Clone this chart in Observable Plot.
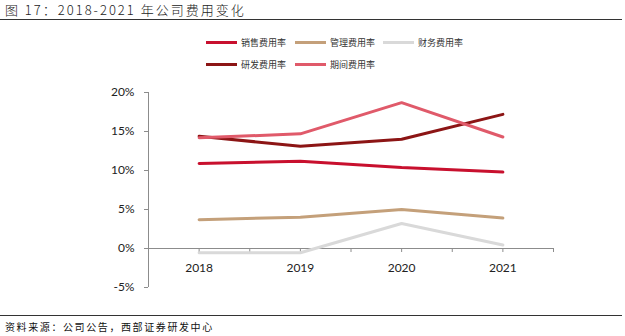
<!DOCTYPE html>
<html><head><meta charset="utf-8">
<script src="https://cdn.jsdelivr.net/npm/d3@7"></script>
<script src="https://cdn.jsdelivr.net/npm/@observablehq/plot@0.6"></script>
<style>
body{margin:0;background:#fff;}
#wrap{position:relative;width:625px;height:336px;overflow:hidden;font-family:"Noto Sans CJK SC","Noto Sans",sans-serif;}
#title{position:absolute;left:5px;top:2px;font-size:13px;line-height:15px;color:#222;letter-spacing:2px;font-weight:300;}
.hr{position:absolute;left:0;width:622px;height:0;border-top:1px solid #333;}
#source{position:absolute;left:5px;top:320px;font-size:10px;line-height:14px;color:#111;letter-spacing:1.6px;}
#legend{position:absolute;left:0;top:0;}
.li{position:absolute;font-size:9px;color:#333;line-height:12px;white-space:nowrap;}
.li span.sw{display:inline-block;width:31px;height:3px;vertical-align:middle;margin-right:4px;position:relative;top:-1px;}
#chart{position:absolute;left:0;top:80px;}
</style></head>
<body><div id="wrap">
<div id="title">图 17：2018-2021 年公司费用变化</div>
<div class="hr" style="top:19px"></div>
<div id="legend"></div>
<div id="chart"></div>
<div class="hr" style="top:315px"></div>
<div id="source">资料来源：公司公告，西部证券研发中心</div>
</div>
<script>
const years = [2018, 2019, 2020, 2021];
const seriesNames = ["销售费用率", "管理费用率", "财务费用率", "研发费用率", "期间费用率"];
const seriesColors = ["#C8102E", "#C4A07A", "#D9D9D9", "#8C1515", "#E05A6A"];
const sales   = [10.9, 11.2, 10.4, 9.8];
const admin   = [3.7, 4.0, 5.0, 3.9];
const finance = [-0.55, -0.55, 3.2, 0.45];
const rnd     = [14.4, 13.1, 14.0, 17.2];
const period  = [14.2, 14.7, 18.7, 14.3];
const yTicks = [-5, 0, 5, 10, 15, 20];
const xDomain = [2017.5, 2021.5];
const xMinorTicks = [2018, 2018.5, 2019, 2019.5, 2020, 2020.5, 2021, 2021.5];

const allSeries = [sales, admin, finance, rnd, period];
const data = [];
allSeries.forEach((vals, s) => vals.forEach((v, i) => data.push({series: seriesNames[s], year: years[i], value: v})));

// legend
const legendPos = [[206,37],[295,37],[383,37],[206,59],[295,59]];
const lg = document.getElementById("legend");
seriesNames.forEach((n, i) => {
  const d = document.createElement("div");
  d.className = "li";
  d.style.left = legendPos[i][0] + "px";
  d.style.top = legendPos[i][1] + "px";
  d.innerHTML = `<span class="sw" style="background:${seriesColors[i]}"></span>${n}`;
  lg.appendChild(d);
});

const axisColor = "#8c8c8c";
const plot = Plot.plot({
  width: 625,
  height: 220,
  marginLeft: 148,
  marginRight: 72,
  marginTop: 12,
  marginBottom: 13,
  style: {fontFamily: "Lato, 'Open Sans', sans-serif", fontSize: "12px", color: "#222", background: "transparent"},
  x: {domain: xDomain, axis: null},
  y: {domain: [-5, 20], axis: null},
  color: {domain: seriesNames, range: seriesColors},
  marks: [
    Plot.ruleX([xDomain[0]], {y1: yTicks[0], y2: yTicks[yTicks.length - 1], stroke: axisColor}),
    Plot.axisY({ticks: yTicks, tickSize: 4, tickPadding: 10, tickFormat: d => d + "%", label: null, stroke: axisColor, fill: "#222", fontSize: 12}),
    Plot.ruleY([0], {x1: xDomain[0], x2: xDomain[1], stroke: axisColor}),
    Plot.ruleX(xMinorTicks, {x: d => d, y1: 0, y2: 0, insetBottom: -4, stroke: axisColor}),
    Plot.text(years, {x: d => d, y: 0, text: d => String(d), dy: 20, fill: "#222", fontSize: 12}),
    Plot.line(data, {x: "year", y: "value", z: "series", stroke: "series", strokeWidth: 3, strokeLinejoin: "miter"})
  ]
});
document.getElementById("chart").appendChild(plot);
</script>
</body></html>
